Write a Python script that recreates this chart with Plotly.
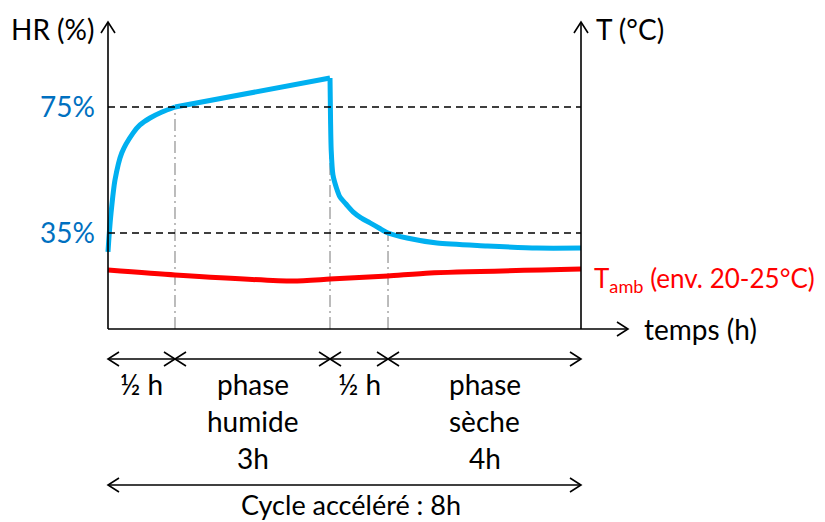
import plotly.graph_objects as go

# ---------------- data ----------------
# schematic time axis, 0..8 h (phase widths drawn as in the schematic)
hr_t = [0.00, 0.022, 0.051, 0.118, 0.232, 0.423, 0.541, 0.710, 0.913, 1.133,
        3.755, 3.764, 3.775, 3.805, 3.864, 3.924, 4.025, 4.144, 4.279, 4.431,
        4.583, 4.736, 5.057, 5.565, 6.410, 7.256, 8.00]
hr_v = [29.0, 35.0, 41.3, 51.8, 60.4, 66.7, 69.3, 71.5, 73.4, 75.0,
        84.2, 70.9, 61.3, 53.4, 49.3, 46.4, 44.2, 41.7, 39.8, 38.2,
        36.6, 35.0, 33.4, 31.8, 30.9, 30.2, 30.2]

temp_t = [0.00, 1.133, 3.129, 3.755, 4.736, 5.446, 8.00]
temp_v = [22.88, 22.64, 22.34, 22.44, 22.59, 22.74, 22.93]

hr_ticks = [35, 75]
hr_tick_text = ["35%", "75%"]

phase_bounds = [0, 1.133, 3.755, 4.736, 8]          # phase limits (h, schematic)
guide_levels = [75.0, 84.2, 35.0]                    # HR where guide lines stop
phase_lines = [["½ h"], ["phase", "humide", "3h"], ["½ h"], ["phase", "sèche", "4h"]]
cycle_label = "Cycle accéléré : 8h"

# ---------------- layout helpers ----------------
OFF = 8                                   # page body margin
FW, FH = 825, 522                         # window size
PL, PR, PT, PB = 100, 590, 22, 329        # plot area in window pixels
X0 = -0.1353
X1 = 8.1522


def X(p):   # window pixel -> paper x
    return (p - PL) / (PR - PL)


def Y(p):   # window pixel -> paper y
    return (PB - p) / (PB - PT)


def dx(pix):  # pixel length -> data x
    return pix * (X1 - X0) / (PR - PL)


def xp_of(xd):  # data x -> window pixel
    return PL + (xd - X0) / (X1 - X0) * (PR - PL)


FONT = "Lato, Carlito, Calibri, sans-serif"
FS = 28
BLUE_TXT = "#0070C0"
BLUE = "#00B0F0"
RED = "#FF0000"
GREY = "#A6A6A6"

fig = go.Figure()
i_top = hr_v.index(75.0)
i_peak = hr_v.index(max(hr_v))
segments = [(0, i_top + 1, "spline"), (i_top, i_peak + 1, "linear"),
            (i_peak, len(hr_t), "spline")]
for a, b, shp in segments:
    fig.add_trace(go.Scatter(x=hr_t[a:b], y=hr_v[a:b], mode="lines",
                             line=dict(color=BLUE, width=5, shape=shp, smoothing=0.7),
                             hoverinfo="skip", showlegend=False))
fig.add_trace(go.Scatter(x=temp_t, y=temp_v, mode="lines", yaxis="y2",
                         line=dict(color=RED, width=5, shape="spline", smoothing=0.6),
                         hoverinfo="skip", showlegend=False))

shapes = []
# horizontal dashed reference lines
for v in hr_ticks:
    shapes.append(dict(type="line", xref="x", yref="y", x0=0, x1=8, y0=v, y1=v,
                       line=dict(color="black", width=1.5, dash="7px,5px")))
# vertical dash-dot guides
for b, lev in zip(phase_bounds[1:4], guide_levels):
    shapes.append(dict(type="line", xref="x", yref="y", x0=b, x1=b, y0=4.52, y1=lev,
                       line=dict(color=GREY, width=1.5, dash="12px,4px,2px,4px"),
                       layer="below"))

AX = dict(color="black", width=1.6)
# axes
shapes.append(dict(type="line", xref="x", yref="paper", x0=0, x1=0, y0=0, y1=1, line=AX))
shapes.append(dict(type="line", xref="x", yref="paper", x0=8, x1=8, y0=0, y1=1, line=AX))
shapes.append(dict(type="line", xref="paper", yref="paper", x0=X(108), x1=X(628),
                   y0=0, y1=0, line=AX))


def vhead_up(xd):
    xc = X(xp_of(xd))
    w = 7 / (PR - PL)
    return dict(type="path", xref="paper", yref="paper", line=AX,
                path=f"M {xc - w},{Y(33)} L {xc},{Y(22)} L {xc + w},{Y(33)}")


shapes.append(vhead_up(0))
shapes.append(vhead_up(8))
shapes.append(dict(type="path", xref="paper", yref="paper", line=AX,
                   path=f"M {X(617)},{Y(322)} L {X(628)},{Y(329)} L {X(617)},{Y(336)}"))


def dim_arrow(xa, xb, ypix):
    yc = Y(ypix)
    yu, yd = Y(ypix - 7), Y(ypix + 7)
    h = dx(11)
    return [
        dict(type="line", xref="x", yref="paper", x0=xa, x1=xb, y0=yc, y1=yc, line=AX),
        dict(type="path", xref="x", yref="paper", line=AX,
             path=f"M {xa + h},{yu} L {xa},{yc} L {xa + h},{yd}"),
        dict(type="path", xref="x", yref="paper", line=AX,
             path=f"M {xb - h},{yu} L {xb},{yc} L {xb - h},{yd}"),
    ]


for a, b in zip(phase_bounds[:-1], phase_bounds[1:]):
    shapes += dim_arrow(a, b, 359)
shapes += dim_arrow(phase_bounds[0], phase_bounds[-1], 485)

ann = []


def txt(text, xp, yp, color="black", xanchor="center", size=FS):
    ann.append(dict(text=text, x=X(xp), y=Y(yp), xref="paper", yref="paper",
                    xanchor=xanchor, yanchor="middle", showarrow=False,
                    font=dict(family=FONT, size=size, color=color)))


txt("HR (%)", 52, 29)
txt("T (°C)", 630, 29)
txt("temps (h)", 642, 329, xanchor="left")
txt("T<sub>amb</sub> (env. 20-25°C)", 592, 279, color=RED, xanchor="left", size=26)

line_y = [384, 421, 458]
for a, b, lines in zip(phase_bounds[:-1], phase_bounds[1:], phase_lines):
    xp = xp_of((a + b) / 2)
    for ln, yy in zip(lines, line_y):
        txt(ln, xp, yy)
txt(cycle_label, 351, 504, size=27)

fig.update_layout(
    width=FW - OFF, height=FH - OFF,
    margin=dict(l=PL - OFF, r=FW - PR, t=PT - OFF, b=FH - PB, pad=0),
    paper_bgcolor="white", plot_bgcolor="white",
    xaxis=dict(range=[X0, X1], showline=False, showgrid=False, zeroline=False,
               showticklabels=False, ticks=""),
    yaxis=dict(range=[4.52, 101.98], showline=False, showgrid=False, zeroline=False,
               tickvals=hr_ticks, ticktext=hr_tick_text, ticks="",
               ticklabelstandoff=4,
               tickfont=dict(family=FONT, size=FS, color=BLUE_TXT)),
    yaxis2=dict(range=[20, 35], overlaying="y", side="right", visible=False),
    shapes=shapes, annotations=ann,
)

fig.write_html("out.html")
